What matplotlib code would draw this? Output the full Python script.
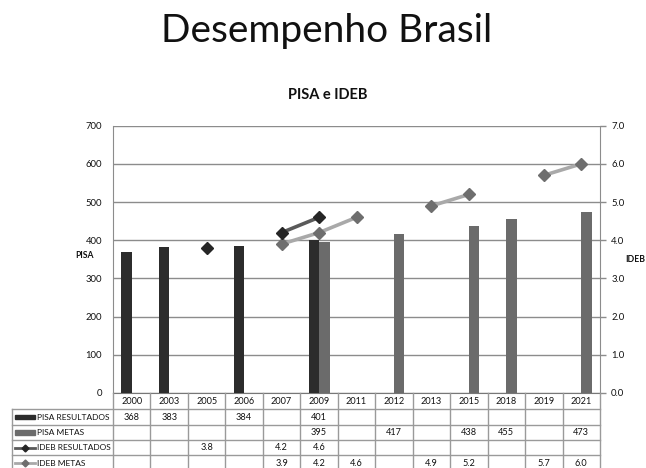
import numpy as np
import matplotlib
matplotlib.use("Agg")
import matplotlib.pyplot as plt
from matplotlib.lines import Line2D
from matplotlib.patches import Rectangle

plt.rcParams['font.family'] = ['Lato', 'DejaVu Sans']

nan = np.nan
years = ['2000', '2003', '2005', '2006', '2007', '2009', '2011',
         '2012', '2013', '2015', '2018', '2019', '2021']
pisa_resultados = [368, 383, nan, 384, nan, 401, nan, nan, nan, nan, nan, nan, nan]
pisa_metas = [nan, nan, nan, nan, nan, 395, nan, 417, nan, 438, 455, nan, 473]
ideb_resultados = [nan, nan, 3.8, nan, 4.2, 4.6, nan, nan, nan, nan, nan, nan, nan]
ideb_metas = [nan, nan, nan, nan, 3.9, 4.2, 4.6, nan, 4.9, 5.2, nan, 5.7, 6.0]
row_names = ['PISA RESULTADOS', 'PISA METAS', 'IDEB RESULTADOS', 'IDEB METAS']

W, H = 646, 468
dark = '#2c2c2c'
mid = '#6b6b6b'
line_dark = '#5a5a5a'
line_light = '#a9a9a9'
grid_c = '#8c8c8c'
txt_c = '#111111'

fig = plt.figure(figsize=(W / 100, H / 100), dpi=100)


def fx(x):
    return x / W


def fy(y):
    return 1 - y / H


# plot area in pixels
L, R, T, B = 113, 600, 125.7, 393
ax = fig.add_axes([fx(L), fy(B), fx(R) - fx(L), fy(T) - fy(B)])
ax2 = ax.twinx()

x = np.arange(len(years))
bw = 0.28
ax.bar(x - bw / 2, pisa_resultados, bw, color=dark, zorder=3)
ax.bar(x + bw / 2, pisa_metas, bw, color=mid, zorder=3)

ax.set_xlim(-0.5, len(years) - 0.5)
ax.set_ylim(0, 700)
ax.set_yticks(range(0, 701, 100))
ax.grid(axis='y', color=grid_c, lw=1.0, zorder=0)
ax.set_axisbelow(True)
ax.set_xticks([])
ax.tick_params(axis='y', length=0, pad=8, labelsize=6.8, labelcolor=txt_c)
ax.spines['top'].set_visible(False)
ax.spines['left'].set_color(grid_c)
ax.spines['bottom'].set_color('#777')
ax.spines['right'].set_visible(False)

ax2.set_ylim(0, 7)
ax2.set_yticks(np.arange(0, 7.1, 1))
ax2.set_yticklabels([f'{v:.1f}' for v in np.arange(0, 7.1, 1)])
ax2.tick_params(axis='y', length=4, width=1, color=grid_c, pad=4, labelsize=6.8, labelcolor=txt_c)
for s in ['top', 'left', 'bottom']:
    ax2.spines[s].set_visible(False)
ax2.spines['right'].set_color(grid_c)

ax2.plot(x, ideb_resultados, color=line_dark, lw=2.6, marker='D', ms=6,
         mfc='#262626', mec='#262626', zorder=5)
ax2.plot(x, ideb_metas, color=line_light, lw=2.6, marker='D', ms=6,
         mfc='#6e6e6e', mec='#6e6e6e', zorder=4)

# titles and axis names
fig.text(fx(326.5), fy(31), 'Desempenho Brasil', ha='center', va='center',
         fontsize=28, color='#111')
fig.text(fx(328), fy(95), 'PISA e IDEB', ha='center', va='center',
         fontsize=10.5, fontweight='bold', color='#111')
fig.text(fx(84), fy(255), 'PISA', ha='center', va='center',
         fontsize=6.2, fontweight='bold', color='#111')
fig.text(fx(635), fy(260), 'IDEB', ha='center', va='center',
         fontsize=6.2, fontweight='bold', color='#111')

# data table under the axis
tab_c = '#9a9a9a'
col_w = (R - L) / len(years)
row_edges = [B, 409, 425, 440, 455, 471]
lab_left = 12


def hline(y, x0, x1):
    fig.add_artist(Line2D([fx(x0), fx(x1)], [fy(y), fy(y)], color=tab_c, lw=1,
                          transform=fig.transFigure))


def vline(xp, y0, y1):
    fig.add_artist(Line2D([fx(xp), fx(xp)], [fy(y0), fy(y1)], color=tab_c, lw=1,
                          transform=fig.transFigure))


for y in row_edges[1:]:
    hline(y, lab_left, R)
vline(lab_left, row_edges[1], row_edges[-1])
for i in range(len(years) + 1):
    vline(L + i * col_w, B, row_edges[-1])

for i, yr in enumerate(years):
    fig.text(fx(L + (i + 0.5) * col_w), fy((row_edges[0] + row_edges[1]) / 2), yr,
             ha='center', va='center', fontsize=6.6, color=txt_c)

series = [pisa_resultados, pisa_metas, ideb_resultados, ideb_metas]
fmts = ['{:.0f}', '{:.0f}', '{:.1f}', '{:.1f}']
for r, (vals, fmt) in enumerate(zip(series, fmts)):
    yc = (row_edges[r + 1] + row_edges[r + 2]) / 2
    for i, v in enumerate(vals):
        if not np.isnan(v):
            fig.text(fx(L + (i + 0.5) * col_w), fy(yc), fmt.format(v),
                     ha='center', va='center', fontsize=6.6, color=txt_c)
    fig.text(fx(37), fy(yc), row_names[r], ha='left', va='center',
             fontsize=6, color=txt_c)

# legend keys inside the row labels
key_x0, key_x1 = 15, 35
for r, c in enumerate([dark, mid]):
    yc = (row_edges[r + 1] + row_edges[r + 2]) / 2
    fig.add_artist(Rectangle((fx(key_x0), fy(yc + 2)), fx(key_x1) - fx(key_x0),
                             fy(yc - 2) - fy(yc + 2), color=c,
                             transform=fig.transFigure))
for r, (lc, mc) in enumerate([(line_dark, '#262626'), (line_light, '#6e6e6e')]):
    yc = (row_edges[r + 3] + row_edges[r + 4]) / 2
    fig.add_artist(Line2D([fx(key_x0), fx(key_x1)], [fy(yc), fy(yc)], color=lc, lw=2,
                          transform=fig.transFigure))
    fig.add_artist(Line2D([fx((key_x0 + key_x1) / 2)], [fy(yc)], marker='D', ms=3.5,
                          color=mc, transform=fig.transFigure))

fig.savefig('out.png', dpi=100)
